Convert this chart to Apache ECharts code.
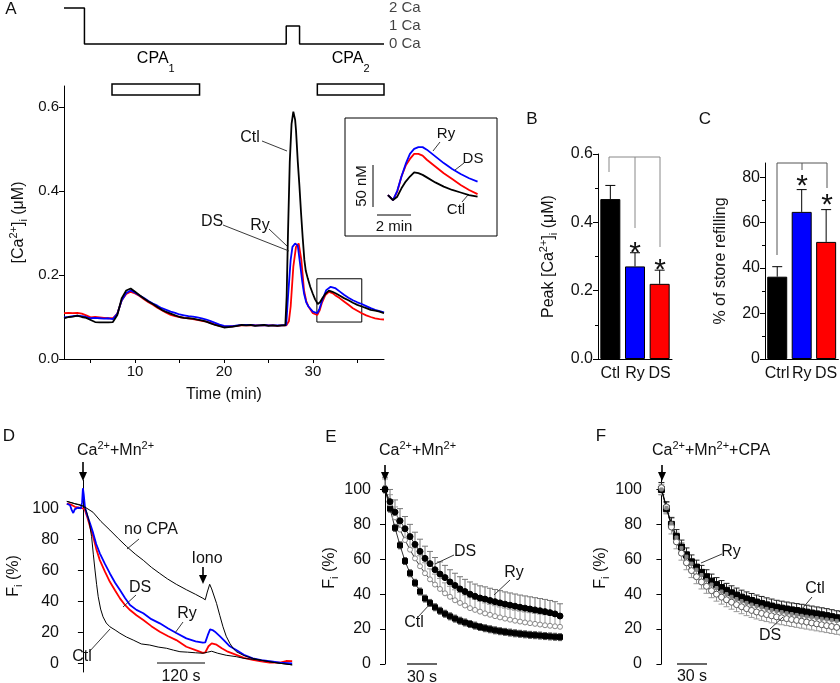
<!DOCTYPE html>
<html><head><meta charset="utf-8">
<script src="https://cdn.jsdelivr.net/npm/echarts@6/dist/echarts.min.js"></script>
<style>html,body{margin:0;padding:0;background:#fff}#c{width:840px;height:683px}</style>
</head><body><div id="c"></div><script>
const FONT = "'Liberation Sans', Arial, Helvetica, sans-serif";
const INK = '#111';

// ---------- Panel A: protocol ----------
const protoSteps = [[2,2],[4.3,2],[4.3,0],[27,0],[27,1],[28.5,1],[28.5,0],[38,0]];
const protoLevels = [2,1,0];
const protoLabels = ['2 Ca','1 Ca','0 Ca'];
const cpaPeriods = [[7.4,17.25],[30.5,38.0]];
const cpaNames = ['1','2'];

// ---------- Panel A: [Ca2+]i traces (min, uM) ----------
const mainCtl = [[2,0.097],[2.5,0.1],[3,0.101],[3.5,0.103],[4,0.1],[4.5,0.098],[5,0.093],[5.5,0.088],[6,0.087],[6.5,0.087],[7,0.087],[7.5,0.088],[8,0.105],[8.5,0.145],[9,0.163],[9.5,0.168],[10,0.16],[10.5,0.152],[11,0.144],[11.5,0.137],[12,0.131],[12.5,0.124],[13,0.117],[13.5,0.112],[14,0.108],[14.5,0.104],[15,0.1],[15.5,0.098],[16,0.097],[16.5,0.096],[17,0.094],[17.5,0.092],[18,0.089],[18.5,0.085],[19,0.081],[19.5,0.078],[20,0.075],[20.5,0.076],[21,0.077],[21.5,0.079],[22,0.081],[22.5,0.08],[23,0.081],[23.5,0.079],[24,0.08],[24.5,0.081],[25,0.079],[25.5,0.08],[26,0.079],[26.5,0.08],[26.9,0.08],[27.05,0.15],[27.2,0.3],[27.4,0.47],[27.6,0.56],[27.8,0.589],[28,0.57],[28.1,0.545],[28.3,0.47],[28.48,0.414],[28.67,0.347],[28.85,0.29],[29.04,0.236],[29.2,0.21],[29.42,0.192],[29.7,0.172],[29.98,0.156],[30.25,0.142],[30.55,0.131],[30.8,0.135],[31.1,0.146],[31.4,0.155],[31.8,0.163],[32.2,0.16],[32.6,0.156],[33,0.151],[33.5,0.145],[34,0.14],[34.5,0.134],[35,0.129],[35.5,0.125],[36,0.121],[36.5,0.117],[37,0.115],[37.5,0.113],[38,0.109]];
const mainRy = [[2,0.099],[2.5,0.1],[3,0.102],[3.5,0.103],[4,0.102],[4.5,0.1],[5,0.097],[5.5,0.098],[6,0.097],[6.5,0.096],[7,0.097],[7.5,0.095],[8,0.108],[8.5,0.14],[9,0.157],[9.5,0.163],[10,0.158],[10.5,0.151],[11,0.145],[11.5,0.138],[12,0.132],[12.5,0.127],[13,0.121],[13.5,0.117],[14,0.113],[14.5,0.11],[15,0.106],[15.5,0.104],[16,0.102],[16.5,0.101],[17,0.099],[17.5,0.097],[18,0.094],[18.5,0.09],[19,0.086],[19.5,0.082],[20,0.079],[20.5,0.078],[21,0.078],[21.5,0.08],[22,0.081],[22.5,0.081],[23,0.081],[23.5,0.08],[24,0.08],[24.5,0.081],[25,0.08],[25.5,0.08],[26,0.08],[26.5,0.08],[27,0.081],[27.2,0.148],[27.5,0.236],[27.7,0.267],[28,0.275],[28.3,0.27],[28.6,0.22],[28.8,0.185],[29,0.156],[29.25,0.135],[29.5,0.125],[30,0.113],[30.5,0.109],[30.75,0.12],[31,0.137],[31.5,0.164],[32,0.172],[32.5,0.169],[33,0.161],[33.5,0.153],[34,0.146],[34.5,0.14],[35,0.135],[35.5,0.131],[36,0.126],[36.5,0.121],[37,0.117],[37.5,0.114],[38,0.111]];
const mainDS = [[2,0.109],[2.5,0.11],[3,0.109],[3.5,0.11],[4,0.108],[4.5,0.104],[5,0.099],[5.5,0.1],[6,0.099],[6.5,0.098],[7,0.097],[7.5,0.097],[8,0.108],[8.5,0.14],[9,0.155],[9.5,0.16],[10,0.156],[10.5,0.15],[11,0.142],[11.5,0.135],[12,0.129],[12.5,0.122],[13,0.116],[13.5,0.11],[14,0.105],[14.5,0.102],[15,0.1],[15.5,0.098],[16,0.097],[16.5,0.095],[17,0.093],[17.5,0.091],[18,0.089],[18.5,0.086],[19,0.082],[19.5,0.079],[20,0.077],[20.5,0.077],[21,0.078],[21.5,0.079],[22,0.08],[22.5,0.08],[23,0.081],[23.5,0.08],[24,0.08],[24.5,0.08],[25,0.08],[25.5,0.08],[26,0.079],[26.5,0.08],[27,0.08],[27.3,0.09],[27.5,0.125],[27.8,0.22],[28.1,0.267],[28.4,0.275],[28.7,0.236],[29,0.164],[29.25,0.138],[29.5,0.125],[30,0.109],[30.5,0.105],[30.75,0.115],[31,0.133],[31.4,0.152],[31.8,0.16],[32.2,0.157],[32.5,0.152],[33,0.145],[33.5,0.137],[34,0.129],[34.5,0.121],[35,0.115],[35.5,0.109],[36,0.104],[36.5,0.1],[37,0.097],[37.5,0.095],[38,0.094]];
const zoomWindow = [30.45, 35.5];
const zoomRange = [0.088, 0.191];

// ---------- Panel A inset (min from start, delta nM) ----------
const insetTime = [0,0.15,0.3,0.55,0.8,1.05,1.3,1.55,1.8,2.05,2.3,2.8,3.3,3.8,4.3,4.8,5.3];
const insetRy  = [0,-3,-6,5,22,37,49,55,57,57,54,46,38,31,25,20,16];
const insetDS  = [0,-3,-6,4,22,35,43,49,49,47,42,34,26,19,12,6,1];
const insetCtl = [0,-3,-6,-2,8,16,22,27,26,24,21,15,10,6,3,0,-2];

// ---------- Panels B, C ----------
const catsB = ['Ctl','Ry','DS'];
const peakMean = [0.468,0.271,0.22];
const peakErr = [0.04,0.04,0.04];
const catsC = ['Ctrl','Ry','DS'];
const refillMean = [36.2,64.7,51.5];
const refillErr = [4.4,9.8,14.2];
const barColors = ['#000000','#0000ff','#ff0000'];

// ---------- Panel D (s, %) ----------
const dNoCPA = [[-40,104.5],[-30,103.8],[-20,103],[-10,102.5],[0,101.5],[10,100],[25,97.5],[45,91.5],[67,86],[88,80.5],[108,75.5],[130,70.5],[150,66.5],[170,62],[191,58],[210,54.5],[232,51],[257,47.5],[280,44.5],[298,42],[304,41],[309,46],[315,51],[320,48],[332,38.7],[340,31],[348,23.6],[356,17.5],[365,12.9],[373,9.8],[381,7.5],[400,5],[422,3.2],[443,2],[464,1],[490,0],[520,-1]];
const dRy = [[-40,103],[-32,102],[-28,99],[-24,97],[-20,99.5],[-12,100.5],[-5,100],[-2,104],[0,113],[2,109],[5,101],[10,96],[18,90],[25.5,84],[33,77],[42,71],[55,64],[67,58],[80,52],[92,47.3],[105,42],[117,37.6],[133,34.5],[150,32.3],[170,28.5],[191,25.8],[212,22.5],[232,19.6],[257,16.1],[280,14.2],[298,13.3],[304,13.5],[310,18],[316,21.9],[322,21.5],[328,20.4],[340,17.5],[350,15],[365,11],[381,8.6],[400,5.5],[422,3.2],[443,2],[464,1.4],[490,0.5],[520,0]];
const dDS = [[-40,103],[-30,102.5],[-20,101],[-10,100.5],[0,100],[5,99],[10,95],[18,88],[25.5,81.7],[33,74],[42,66.6],[55,59],[67,52.6],[80,47],[92,41.9],[105,37.5],[117,34.4],[133,31],[150,27.9],[170,24],[191,20.4],[212,17.5],[232,15],[257,10.7],[280,8.5],[298,6.8],[304,7],[312,11],[320,12.9],[332,12],[345,9.7],[360,7.5],[381,5.4],[400,3.5],[422,2.2],[443,1.2],[464,0.4],[490,0.5],[505,1.5],[520,1.4]];
const dCtl = [[-40,104.5],[-20,103],[0,101.5],[5,100],[10,97],[15,92],[21.6,81.7],[26,70],[30,60.2],[34,51],[38,43],[44,35],[50,30],[58,26],[67,23.6],[80,21.5],[92,19.4],[108,17],[125,15],[145,12.5],[166,11.8],[187,10.5],[208,9.7],[225,8.5],[241,7.5],[260,7.2],[280,6.8],[298,6.5],[310,7.2],[320,7.8],[335,6.5],[356,5.2],[381,4.3],[400,3.2],[422,2.6],[443,2],[464,1],[490,0],[520,-1]];

// ---------- Panel E (s, %) ----------
const eTime = [0,5,10,15,20,25,30,35,40,45,50,55,60,65,70,75,80,85,90,95,100,105,110,115,120,125,130,135,140,145,150,155,160,165,170,175];
const eCtl = [100,89,78,68,59,52,46.5,41.5,37.5,35,32.5,30.5,28.8,27.3,26,24.8,23.8,22.9,22,21.2,20.5,19.9,19.3,18.8,18.4,18,17.6,17.3,17,16.7,16.5,16.3,16,15.8,15.6,15.4];
const eDS = [100,93,87,82,77.5,73,68.5,64.5,60.5,57.5,54,51.5,49.5,47,45,43,41.5,40,38.8,37.8,37.2,36.4,35.7,35,34.3,33.7,33.1,32.5,32,31.5,31,30.5,30,29.4,28.7,27.5];
const eRy = [100,91,84,77,71,65.5,60.5,56,52,48.5,45.5,43,40.5,38.5,36.5,35,33.5,32,31,30,29,28.2,27.4,26.7,26,25.4,24.8,24.3,23.8,23.4,23,22.6,22.2,21.9,21.6,21.3];
const eErr = [2,7,6]; // Ctl, DS, Ry

// ---------- Panel F (s, %) ----------
const fTime = [0,5,10,15,20,25,30,35,40,45,50,55,60,65,70,75,80,85,90,95,100,105,110,115,120,125,130,135,140,145,150,155,160,165,170,175,180];
const fCtl = [100,89,80,73,67,62.5,58.5,55.5,52.5,50,47.5,45.5,43.8,42.2,40.8,39.5,38.3,37.3,36.4,35.5,34.7,33.9,33.2,32.5,32,31.5,31,30.6,30.2,29.7,29.2,28.7,28.2,27.7,27.1,26.5,26];
const fDS = [101,90,78.5,70,63.5,58,53.5,50,47,44.5,42,40,38.3,36.8,35.4,34,32.8,31.7,30.7,29.8,29,28.3,27.6,27,26.5,26,25.5,25,24.5,24,23.5,23,22.5,22,21.5,21,20.6];
const fRy = [100,89.5,80.5,72.5,66.5,61.5,57.5,54,51,48,45.5,43.5,41.5,40,38.5,37.2,36,35,34,33.2,32.4,31.6,30.9,30.3,29.7,29.1,28.6,28.1,27.6,27.1,26.7,26.3,25.9,25.5,25.1,24.7,24.3];
const fErr = [4,4,3]; // Ctl, DS, Ry

// ================= helpers =================
const RICH = {
  b: {fontSize: 16, fontFamily: FONT, color: INK, lineHeight: 21},
  sup: {fontSize: 11, fontFamily: FONT, color: INK, verticalAlign: 'top', lineHeight: 21},
  sub: {fontSize: 11, fontFamily: FONT, color: INK, verticalAlign: 'bottom', lineHeight: 21}
};
function T(x, y, text, o) {
  o = o || {};
  return {type: 'text', x: x, y: y, rotation: o.rot || 0, z: 100, silent: true,
    style: {text: text, font: (o.size || 16) + 'px ' + FONT, fill: INK,
      align: o.align || 'center', verticalAlign: o.va || 'middle', rich: o.rich}};
}
function L(x1, y1, x2, y2, color, w) {
  return {type: 'line', z: 100, silent: true, shape: {x1, y1, x2, y2}, style: {stroke: color || '#222', lineWidth: w || 0.9}};
}
function ARROW(x, y1, y2) {
  return [L(x, y1, x, y2 - 7, '#000', 1.6),
    {type: 'polygon', z: 100, silent: true, shape: {points: [[x - 4, y2 - 9], [x + 4, y2 - 9], [x, y2]]}, style: {fill: '#000'}}];
}
function errRender(color, capHalf, mode) {
  return function (params, api) {
    const x = api.value(0), y = api.value(1), e = api.value(2);
    const c = api.coord([x, y]);
    const ch = [];
    const st = {stroke: color, lineWidth: 1};
    if (mode !== 'down') {
      const u = api.coord([x, y + e]);
      ch.push({type: 'line', shape: {x1: c[0], y1: c[1], x2: u[0], y2: u[1]}, style: st});
      ch.push({type: 'line', shape: {x1: u[0] - capHalf, y1: u[1], x2: u[0] + capHalf, y2: u[1]}, style: st});
    }
    if (mode !== 'up') {
      const d = api.coord([x, y - e]);
      ch.push({type: 'line', shape: {x1: c[0], y1: c[1], x2: d[0], y2: d[1]}, style: st});
      ch.push({type: 'line', shape: {x1: d[0] - capHalf, y1: d[1], x2: d[0] + capHalf, y2: d[1]}, style: st});
    }
    return {type: 'group', children: ch};
  };
}
const axisLineBlack = {show: true, lineStyle: {color: '#000', width: 1}};
const lbl = (size) => ({color: INK, fontSize: size, fontFamily: FONT});
function hiddenAxis(gi, min, max) {
  return {type: 'value', gridIndex: gi, min: min, max: max, show: false, splitLine: {show: false}};
}
function yVal(gi, min, max, ticks, fmt, name, gap, size) {
  return {type: 'value', gridIndex: gi, min: min, max: max, position: 'left',
    axisLine: axisLineBlack, splitLine: {show: false},
    axisTick: {show: true, inside: false, length: 5, lineStyle: {color: '#000'}, customValues: ticks},
    axisLabel: Object.assign(lbl(size || 15), {customValues: ticks, margin: 5, formatter: fmt}),
    name: name, nameLocation: 'middle', nameGap: gap, nameRotate: 90,
    nameTextStyle: {color: INK, fontSize: 16, fontFamily: FONT, rich: RICH}};
}
const fmt1 = v => Number(v).toFixed(1);
const fmt0 = v => String(Math.round(v));

const grids = [
  {left: 64, top: 4.4, width: 320, height: 97.2},     // 0 protocol
  {left: 64, top: 86, width: 320, height: 273},       // 1 main A
  {left: 345, top: 118, width: 152, height: 118, show: true, borderColor: '#000', borderWidth: 1, backgroundColor: 'transparent'}, // 2 inset
  {left: 598, top: 154, width: 74, height: 205},      // 3 B
  {left: 765, top: 163, width: 75, height: 196},      // 4 C
  {left: 64, top: 480, width: 229, height: 192},      // 5 D
  {left: 376, top: 472, width: 194, height: 192},     // 6 E
  {left: 647, top: 472, width: 193, height: 192}      // 7 F
];

const xAxes = [
  hiddenAxis(0, 2, 38),
  {type: 'value', gridIndex: 1, min: 2, max: 38, axisLine: axisLineBlack, splitLine: {show: false},
    axisTick: {show: true, length: 4, lineStyle: {color: '#000'}, customValues: [5,10,15,20,25,30,35]},
    axisLabel: Object.assign(lbl(15), {customValues: [10,20,30], margin: 5}),
    name: 'Time (min)', nameLocation: 'middle', nameGap: 28, nameTextStyle: {color: INK, fontSize: 16, fontFamily: FONT}},
  hiddenAxis(2, -2.54, 6.45),
  {type: 'category', gridIndex: 3, data: catsB, axisLine: axisLineBlack, axisTick: {show: false}, axisLabel: Object.assign(lbl(16), {margin: 7, interval: 0})},
  {type: 'category', gridIndex: 4, data: catsC, axisLine: axisLineBlack, axisTick: {show: false}, axisLabel: Object.assign(lbl(16), {margin: 7, interval: 0})},
  hiddenAxis(5, -47, 522),
  hiddenAxis(6, -9, 185),
  hiddenAxis(7, -14.4, 178.3)
];

const yAxes = [
  hiddenAxis(0, -3.2, 2.2),
  yVal(1, 0, 0.65, [0,0.2,0.4,0.6], fmt1, '[Ca{sup|2+}]{sub|i} (\u03bcM)', 35, 15),
  hiddenAxis(2, -48.8, 91.7),
  yVal(3, 0, 0.6, [0,0.2,0.4,0.6], fmt1, 'Peak [Ca{sup|2+}]{sub|i} (\u03bcM)', 39, 16),
  yVal(4, 0, 86.2, [0,20,40,60,80], fmt0, '% of store refilling', 36, 16),
  yVal(5, -5.6, 118.3, [0,20,40,60,80,100], fmt0, 'F{sub|i} (%)', 40, 16),
  yVal(6, 0, 110, [0,20,40,60,80,100], fmt0, 'F{sub|i} (%)', 31, 16),
  yVal(7, 0, 110, [0,20,40,60,80,100], fmt0, 'F{sub|i} (%)', 29, 16),
  // minor tick axes (B, C)
  {type: 'value', gridIndex: 3, min: 0, max: 0.6, position: 'left', axisLine: {show: false}, splitLine: {show: false}, axisLabel: {show: false},
    axisTick: {show: true, length: 3, lineStyle: {color: '#000'}, customValues: [0.1,0.3,0.5]}},
  {type: 'value', gridIndex: 4, min: 0, max: 86.2, position: 'left', axisLine: {show: false}, splitLine: {show: false}, axisLabel: {show: false},
    axisTick: {show: true, length: 3, lineStyle: {color: '#000'}, customValues: [10,30,50,70]}}
];

function line(xi, data, color, width, z) {
  return {type: 'line', xAxisIndex: xi, yAxisIndex: xi, data: data, showSymbol: false, symbol: 'none',
    lineStyle: {color: color, width: width}, z: z || 2, animation: false, silent: true};
}
function pts(xi, times, vals, symbol, size, fill, border, lineW) {
  return {type: 'line', xAxisIndex: xi, yAxisIndex: xi, data: times.map((t, i) => [t, vals[i]]),
    symbol: symbol, symbolSize: size, showSymbol: true,
    itemStyle: {color: fill, borderColor: border, borderWidth: 1, opacity: 1},
    lineStyle: {color: '#000', width: lineW}, z: 4, animation: false, silent: true};
}
function errs(xi, times, vals, err, color, cap, mode) {
  return {type: 'custom', xAxisIndex: xi, yAxisIndex: xi, data: times.map((t, i) => [t, vals[i], err]),
    renderItem: errRender(color, cap, mode), z: 3, silent: true, animation: false};
}
function barErr(xi, means, errsArr) {
  return {type: 'custom', xAxisIndex: xi, yAxisIndex: xi, data: means.map((m, i) => [i, m, errsArr[i]]),
    renderItem: errRender('#000', 5, 'up'), z: 5, silent: true, animation: false};
}

const series = [
  // protocol
  line(0, protoSteps, '#000', 1.5),
  {type: 'scatter', xAxisIndex: 0, yAxisIndex: 0, data: protoLevels.map((lv, i) => [38, lv, protoLabels[i]]),
    symbolSize: 0, silent: true, animation: false,
    label: {show: true, position: 'right', distance: 5, formatter: p => p.data[2], color: INK, fontSize: 15, fontFamily: FONT}},
  {type: 'custom', xAxisIndex: 0, yAxisIndex: 0, data: cpaPeriods.map((p, i) => [p[0], p[1], i]), silent: true, animation: false,
    renderItem: function (params, api) {
      const s = api.value(0), e = api.value(1), i = api.value(2);
      const a = api.coord([s, -2.22]), b = api.coord([e, -2.83]), m = api.coord([(s + e) / 2, -1.05]);
      return {type: 'group', children: [
        {type: 'rect', shape: {x: a[0], y: a[1], width: b[0] - a[0], height: b[1] - a[1]}, style: {fill: '#fff', stroke: '#000', lineWidth: 1.5}},
        {type: 'text', x: m[0], y: m[1], style: {text: '{b|CPA}{s|' + cpaNames[i] + '}', align: 'center', verticalAlign: 'middle',
          rich: {b: {fontSize: 16, fontFamily: FONT, color: INK, lineHeight: 24, verticalAlign: 'top'}, s: {fontSize: 11, fontFamily: FONT, color: INK, lineHeight: 24, verticalAlign: 'bottom'}}}}
      ]};
    }},
  // main A
  line(1, mainDS, '#ff0000', 1.8, 2),
  line(1, mainRy, '#0000ff', 1.8, 3),
  Object.assign(line(1, mainCtl, '#000000', 1.8, 4), {
    markArea: {silent: true, itemStyle: {color: 'rgba(0,0,0,0)', borderColor: '#000', borderWidth: 1},
      data: [[{coord: [zoomWindow[0], zoomRange[1]]}, {coord: [zoomWindow[1], zoomRange[0]]}]]}}),
  // inset
  line(2, insetTime.map((t, i) => [t, insetDS[i]]), '#ff0000', 1.8, 2),
  line(2, insetTime.map((t, i) => [t, insetRy[i]]), '#0000ff', 1.8, 3),
  line(2, insetTime.map((t, i) => [t, insetCtl[i]]), '#000000', 1.8, 4),
  // B
  {type: 'bar', xAxisIndex: 3, yAxisIndex: 3, barWidth: 20, animation: false, silent: true,
    data: peakMean.map((v, i) => ({value: v, itemStyle: {color: barColors[i], borderColor: '#000', borderWidth: 1}}))},
  barErr(3, peakMean, peakErr),
  // C
  {type: 'bar', xAxisIndex: 4, yAxisIndex: 4, barWidth: 20, animation: false, silent: true,
    data: refillMean.map((v, i) => ({value: v, itemStyle: {color: barColors[i], borderColor: '#000', borderWidth: 1}}))},
  barErr(4, refillMean, refillErr),
  // D
  line(5, dDS, '#ff0000', 1.8, 2),
  line(5, dRy, '#0000ff', 1.8, 3),
  line(5, dNoCPA, '#000000', 1, 4),
  line(5, dCtl, '#000000', 1, 4),
  // E
  errs(6, eTime, eDS, eErr[1], '#777', 3, 'up'),
  errs(6, eTime, eRy, eErr[2], '#999', 3, 'up'),
  errs(6, eTime, eCtl, eErr[0], '#555', 2, 'both'),
  pts(6, eTime, eRy, 'circle', 5, '#fff', '#888', 0.8),
  pts(6, eTime, eCtl, 'rect', 5, '#000', '#000', 0.8),
  pts(6, eTime, eDS, 'circle', 6, '#000', '#000', 0.8),
  // F
  errs(7, fTime, fRy, fErr[2], '#999', 3, 'both'),
  errs(7, fTime, fCtl, fErr[0], '#222', 3, 'up'),
  errs(7, fTime, fDS, fErr[1], '#999', 3, 'down'),
  pts(7, fTime, fCtl, 'rect', 6, '#000', '#000', 0.8),
  pts(7, fTime, fDS, 'circle', 6, '#fff', '#555', 0.8),
  pts(7, fTime, fRy, 'rect', 3, '#888', '#888', 0.8)
];

const graphics = [
  T(11, 9, 'A', {size: 17}), T(532, 119, 'B', {size: 17}), T(705, 119, 'C', {size: 17}),
  T(9, 436, 'D', {size: 17}), T(331, 437, 'E', {size: 17}), T(601, 436, 'F', {size: 17}),
  // A annotations
  T(250, 138, 'Ctl'), L(262, 141, 287, 151),
  T(212, 222, 'DS'), L(223, 225, 289, 251),
  T(260, 226, 'Ry'), L(269, 229, 287, 246),
  // inset scale bars + labels
  L(373, 165, 373, 207, '#000', 1), L(377, 215, 411, 215, '#000', 1),
  T(362, 186, '50 nM', {rot: Math.PI / 2, size: 15}), T(394, 227, '2 min', {size: 15}),
  T(446, 134, 'Ry', {size: 15}), L(440, 142, 433, 151),
  T(473, 159, 'DS', {size: 15}), L(464, 163, 455, 170),
  T(456, 210, 'Ctl', {size: 15}), L(462, 202, 468, 195),
  // B bracket
  L(609, 157, 660, 157, '#888', 1), L(609, 157, 609, 172, '#888', 1), L(635, 157, 635, 228, '#888', 1), L(660, 157, 660, 247, '#888', 1),
  T(635, 254, '*', {size: 30}), T(660, 271, '*', {size: 30}),
  // C bracket
  L(777, 163, 827, 163, '#555', 1), L(777, 163, 777, 255, '#555', 1), L(802, 163, 802, 170, '#555', 1), L(827, 163, 827, 188, '#555', 1),
  T(802, 187, '*', {size: 30}), T(827, 206, '*', {size: 30}),
  // D
  T(77, 451, '{b|Ca}{sup|2+}{b|+Mn}{sup|2+}', {align: 'left', rich: RICH}),
  ...ARROW(83, 462, 481),
  T(151, 530, 'no CPA'), L(139, 539, 127, 549),
  T(140, 588, 'DS'), L(136, 595, 123, 607),
  T(82, 657, 'Ctl'), L(89, 652, 110, 629),
  T(187, 614, 'Ry'), L(183, 622, 175, 633),
  T(207, 559, 'Iono'), ...ARROW(203, 567, 584),
  L(157, 663, 205, 663, '#000', 1.2), T(181, 677, '120 s'),
  // E
  T(379, 451, '{b|Ca}{sup|2+}{b|+Mn}{sup|2+}', {align: 'left', rich: RICH}),
  ...ARROW(385, 465, 481),
  T(465, 552, 'DS'), L(454, 555, 435, 564),
  T(514, 573, 'Ry'), L(510, 580, 494, 595),
  T(414, 623, 'Ctl'), L(418, 617, 430, 604),
  L(407, 664, 437, 664, '#000', 1.2), T(422, 678, '30 s'),
  // F
  T(652, 451, '{b|Ca}{sup|2+}{b|+Mn}{sup|2+}{b|+CPA}', {align: 'left', rich: RICH}),
  ...ARROW(662, 465, 481),
  T(731, 552, 'Ry'), L(722, 554, 701, 563),
  T(815, 589, 'Ctl'), L(812, 597, 802, 609),
  T(770, 636, 'DS'), L(770, 629, 783, 617),
  L(677, 664, 707, 664, '#000', 1.2), T(692, 677, '30 s')
];

const chart = echarts.init(document.getElementById('c'), null, {renderer: 'canvas'});
chart.setOption({
  animation: false,
  backgroundColor: '#fff',
  textStyle: {fontFamily: FONT},
  grid: grids,
  xAxis: xAxes,
  yAxis: yAxes,
  series: series,
  graphic: graphics
});
</script></body></html>
